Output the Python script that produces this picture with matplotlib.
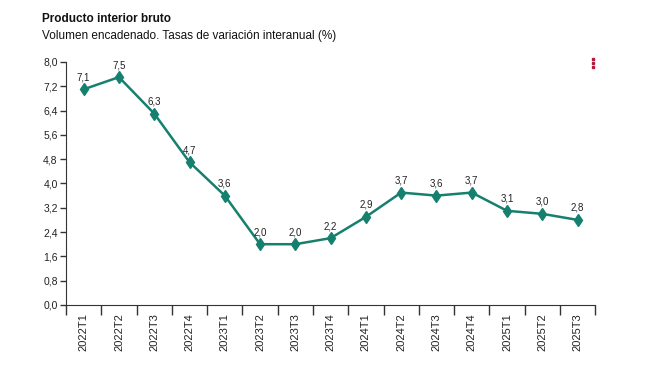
import matplotlib.pyplot as plt
import numpy as np

plt.rcParams["font.family"] = ["Liberation Sans", "DejaVu Sans"]

periodos = ["2022T1", "2022T2", "2022T3", "2022T4", "2023T1", "2023T2", "2023T3", "2023T4",
            "2024T1", "2024T2", "2024T3", "2024T4", "2025T1", "2025T2", "2025T3"]
pib = [7.1, 7.5, 6.3, 4.7, 3.6, 2.0, 2.0, 2.2, 2.9, 3.7, 3.6, 3.7, 3.1, 3.0, 2.8]
yticks = [0.0, 0.8, 1.6, 2.4, 3.2, 4.0, 4.8, 5.6, 6.4, 7.2, 8.0]

color = "#16806f"
txt = "#222222"

fig = plt.figure(figsize=(6.59, 3.71), dpi=100)
ax = fig.add_axes([0.1002, 0.178, 0.803, 0.655])

x = np.arange(len(periodos))
ax.plot(x, pib, color=color, lw=1.8, marker="d", ms=6, mfc=color, mec=color, zorder=3)
for xi, v in zip(x, pib):
    ax.annotate(f"{v:.1f}".replace(".", ","), (xi, v), xytext=(0, 5), textcoords="offset points",
                ha="center", va="bottom", fontsize=7, color=txt)

ax.set_xlim(-0.5, len(periodos) - 0.5)
ax.set_ylim(0, 8)
ax.set_yticks(yticks)
ax.set_yticklabels([f"{t:.1f}".replace(".", ",") for t in yticks], fontsize=7.5, color=txt)

# category labels at centers, tick marks at boundaries
ax.set_xticks(np.arange(len(periodos) + 1) - 0.5)
ax.set_xticklabels([])
ax.tick_params(axis="x", length=7, width=1, color="#333333")
ax.tick_params(axis="y", length=4, width=1, color="#333333", pad=2)
ax.set_xticks(x, minor=True)
ax.set_xticklabels(periodos, minor=True, rotation=90, fontsize=8, color=txt)
ax.tick_params(axis="x", which="minor", length=0, pad=6)

for s in ["top", "right"]:
    ax.spines[s].set_visible(False)
ax.spines["left"].set_color("#333333")
ax.spines["bottom"].set_color("#333333")

fig.text(0.064, 0.94, "Producto interior bruto", fontsize=8.5, fontweight="bold", color="#111111")
fig.text(0.064, 0.895, "Volumen encadenado. Tasas de variación interanual (%)", fontsize=8.5, color="#111111")

# menu dots
for yy in [0.841, 0.830, 0.819]:
    fig.add_artist(plt.Line2D([0.9], [yy], marker="s", ms=1.6, color="#b5173f", transform=fig.transFigure))

fig.savefig("out.png", dpi=100)
